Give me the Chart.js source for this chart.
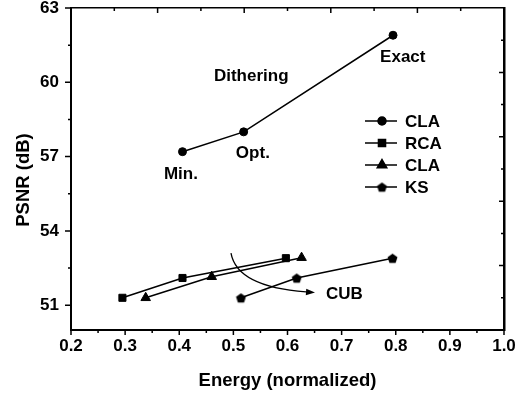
<!DOCTYPE html>
<html>
<head>
<meta charset="utf-8">
<script src="https://cdn.jsdelivr.net/npm/chart.js@4/dist/chart.umd.min.js"></script>
<style>
  html, body { margin: 0; padding: 0; background: #fff; }
  #wrap { width: 523px; height: 398px; }
</style>
</head>
<body>
<div id="wrap"><canvas id="c"></canvas></div>
<script>
// dithering CLA: min. / opt. / exact
var ditherEnergy = [0.406, 0.519, 0.795];
var ditherPsnr = [57.2, 58.0, 61.9];
// CUB adders
var rcaEnergy = [0.295, 0.406, 0.597];
var rcaPsnr = [51.3, 52.1, 52.9];
var claEnergy = [0.338, 0.46, 0.626];
var claPsnr = [51.3, 52.15, 52.92];
var ksEnergy = [0.514, 0.617, 0.794];
var ksPsnr = [51.3, 52.1, 52.9];

var seriesLabels = ["CLA", "RCA", "CLA", "KS"];
var xTicks = [0.2, 0.3, 0.4, 0.5, 0.6, 0.7, 0.8, 0.9, 1.0];
var yTicks = [51, 54, 57, 60, 63];

var FONT = "'Liberation Sans', Arial, sans-serif";

var notes = [
  {text: "Dithering", x: 0.533, y: 60.25},
  {text: "Exact", x: 0.813, y: 61.02},
  {text: "Opt.", x: 0.536, y: 57.13},
  {text: "Min.", x: 0.403, y: 56.3},
  {text: "CUB", x: 0.705, y: 51.43}
];
// curved arrow towards CUB (start, control, end) in data units
var cubArrow = [[0.4956, 53.1], [0.5067, 51.74], [0.6508, 51.51]];

function toPts(xs, ys){
  var out = [];
  for(var i = 0; i < xs.length; i++){
    out.push({x: xs[i], y: ys[i]});
  }
  return out;
}

function pentagon(r){
  var s = Math.ceil(r * 2 + 2);
  var c = document.createElement("canvas");
  c.width = s; c.height = s;
  var g = c.getContext("2d");
  g.beginPath();
  for(var i = 0; i < 5; i++){
    var a = -Math.PI / 2 + i * 2 * Math.PI / 5;
    g.lineTo(s / 2 + r * Math.cos(a), s / 2 + 0.6 + r * Math.sin(a));
  }
  g.closePath();
  g.fillStyle = "#000";
  g.fill();
  return c;
}

function series(label, xs, ys, style, radius){
  return {
    label: label,
    data: toPts(xs, ys),
    borderColor: "#000",
    backgroundColor: "#000",
    borderWidth: 1.5,
    pointStyle: style,
    pointRadius: radius,
    pointBorderWidth: 1,
    pointBackgroundColor: "#000",
    pointBorderColor: "#000",
    tension: 0
  };
}

// no overhang padding, keep plot box where the reference has it
function noPad(s){
  s.paddingTop = 0; s.paddingBottom = 0;
  s.paddingLeft = 0; s.paddingRight = 0;
}

var frame = {
  id: "frame",
  afterDraw: function(chart){
    var ctx = chart.ctx, a = chart.chartArea;
    var sx = chart.scales.x, sy = chart.scales.y;
    var i, p;
    ctx.save();
    ctx.strokeStyle = "#000";
    ctx.fillStyle = "#000";
    ctx.lineWidth = 1.5;
    ctx.beginPath();
    // bottom: major + minor, outward
    for(i = 0; i < xTicks.length; i++){
      p = sx.getPixelForValue(xTicks[i]);
      ctx.moveTo(p, a.bottom); ctx.lineTo(p, a.bottom + 5);
      if(i < xTicks.length - 1){
        p = sx.getPixelForValue((xTicks[i] + xTicks[i + 1]) / 2);
        ctx.moveTo(p, a.bottom); ctx.lineTo(p, a.bottom + 3);
      }
    }
    // left
    for(i = 0; i < yTicks.length; i++){
      p = sy.getPixelForValue(yTicks[i]);
      ctx.moveTo(a.left, p); ctx.lineTo(a.left - 6, p);
      if(i < yTicks.length - 1){
        p = sy.getPixelForValue((yTicks[i] + yTicks[i + 1]) / 2);
        ctx.moveTo(a.left, p); ctx.lineTo(a.left - 3, p);
      }
    }
    // top and right, inward
    var tx = chart.scales.x2, ty = chart.scales.y2;
    for(i = 1; i < 10; i++){
      var len = (i % 2 === 0) ? 5 : 3;
      p = tx.getPixelForValue(i);
      ctx.moveTo(p, a.top); ctx.lineTo(p, a.top + len);
      p = ty.getPixelForValue(i);
      ctx.moveTo(a.right, p); ctx.lineTo(a.right - len, p);
    }
    ctx.stroke();

    // notes
    ctx.font = "bold 17px " + FONT;
    ctx.textAlign = "center";
    ctx.textBaseline = "middle";
    notes.forEach(function(n){
      ctx.fillText(n.text, sx.getPixelForValue(n.x), sy.getPixelForValue(n.y));
    });

    // arrow
    var P = cubArrow.map(function(q){ return [sx.getPixelForValue(q[0]), sy.getPixelForValue(q[1])]; });
    var ang = Math.atan2(P[2][1] - P[1][1], P[2][0] - P[1][0]);
    var hl = 9, hw = 3.2;
    var bx = P[2][0] - hl * Math.cos(ang), by = P[2][1] - hl * Math.sin(ang);
    ctx.lineWidth = 1.3;
    ctx.beginPath();
    ctx.moveTo(P[0][0], P[0][1]);
    ctx.quadraticCurveTo(P[1][0], P[1][1], bx, by);
    ctx.stroke();
    ctx.beginPath();
    ctx.moveTo(P[2][0], P[2][1]);
    ctx.lineTo(bx + hw * Math.sin(ang), by - hw * Math.cos(ang));
    ctx.lineTo(bx - hw * Math.sin(ang), by + hw * Math.cos(ang));
    ctx.closePath();
    ctx.fill();

    // legend
    var lx = a.left + 294, ly = a.top + 113;
    ctx.textAlign = "left";
    chart.data.datasets.forEach(function(ds, k){
      var y = ly + k * 22;
      ctx.lineWidth = 1.5;
      ctx.beginPath();
      ctx.moveTo(lx, y); ctx.lineTo(lx + 32, y);
      ctx.stroke();
      Chart.helpers.drawPoint(ctx, {pointStyle: ds.pointStyle, radius: ds.pointRadius, borderWidth: 1}, lx + 17, y);
      ctx.fill();
      ctx.fillText(ds.label, lx + 40, y + 1);
    });

    // y title
    ctx.save();
    ctx.translate(24, 180);
    ctx.rotate(-Math.PI / 2);
    ctx.textAlign = "center";
    ctx.font = "bold 18.5px " + FONT;
    ctx.fillText("PSNR (dB)", 0, 0);
    ctx.restore();
    ctx.restore();
  }
};

function tickFont(){ return {family: FONT, size: 17, weight: 700}; }

new Chart(document.getElementById("c"), {
  type: "line",
  data: {
    datasets: [
      series(seriesLabels[0], ditherEnergy, ditherPsnr, "circle", 4),
      series(seriesLabels[1], rcaEnergy, rcaPsnr, "rect", 5),
      series(seriesLabels[2], claEnergy, claPsnr, "triangle", 5.5),
      series(seriesLabels[3], ksEnergy, ksPsnr, pentagon(5.2), 4)
    ]
  },
  options: {
    responsive: true,
    maintainAspectRatio: false,
    animation: false,
    layout: {padding: 0},
    plugins: {legend: {display: false}, tooltip: {enabled: false}},
    scales: {
      x: {
        type: "linear", position: "bottom", min: 0.2, max: 1.0,
        afterBuildTicks: function(s){ s.ticks = xTicks.map(function(v){ return {value: v}; }); },
        afterFit: function(s){ s.height = 68; noPad(s); },
        ticks: {font: tickFont, color: "#000", padding: 6, maxRotation: 0,
          callback: function(v){ return v.toFixed(1); }},
        grid: {drawOnChartArea: false, drawTicks: false},
        border: {color: "#000", width: 2},
        title: {display: true, text: "Energy (normalized)", color: "#000",
          font: {family: FONT, size: 18.5, weight: 700}, padding: {top: 0, bottom: 6}}
      },
      y: {
        type: "linear", position: "left", min: 50, max: 63,
        afterBuildTicks: function(s){ s.ticks = yTicks.map(function(v){ return {value: v}; }); },
        afterFit: function(s){ s.width = 71; noPad(s); },
        ticks: {font: tickFont, color: "#000", padding: 12},
        grid: {drawOnChartArea: false, drawTicks: false},
        border: {color: "#000", width: 2}
      },
      x2: {
        type: "linear", axis: "x", position: "top", min: 0, max: 10,
        afterFit: function(s){ s.height = 8; noPad(s); },
        ticks: {display: false},
        grid: {drawOnChartArea: false, drawTicks: false},
        border: {color: "#000", width: 1.5}
      },
      y2: {
        type: "linear", axis: "y", position: "right", min: 0, max: 10,
        afterFit: function(s){ s.width = 19; noPad(s); },
        ticks: {display: false},
        grid: {drawOnChartArea: false, drawTicks: false},
        border: {color: "#000", width: 2.5}
      }
    }
  },
  plugins: [frame]
});
</script>
</body>
</html>
